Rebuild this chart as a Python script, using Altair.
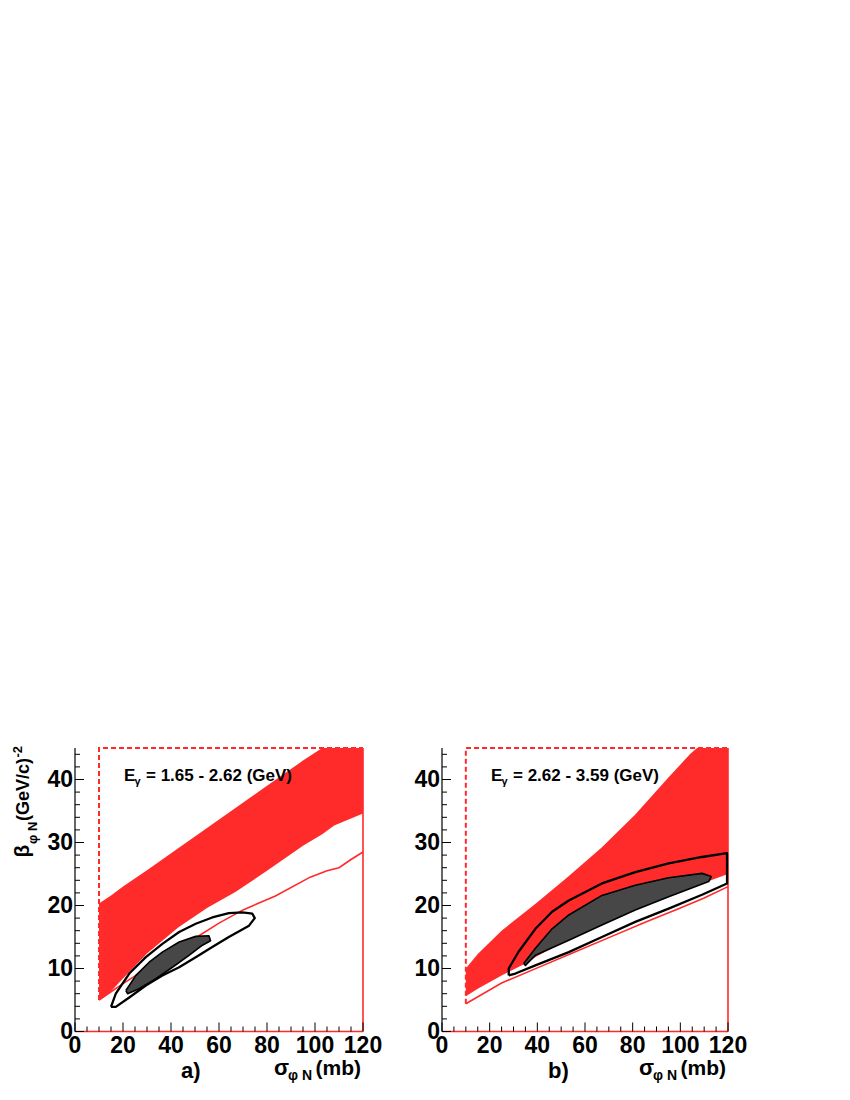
import altair as alt
import pandas as pd

RED = "#ff2a2a"
FONT = "Liberation Sans"

# ---------------- axis ticks ----------------
x_major = [0, 20, 40, 60, 80, 100, 120]
x_minor = [5, 10, 15, 25, 30, 35, 45, 50, 55, 65, 70, 75, 85, 90, 95, 105, 110, 115]
y_major = [0, 10, 20, 30, 40]
y_minor = [2, 4, 6, 8, 12, 14, 16, 18, 22, 24, 26, 28, 32, 34, 36, 38, 42, 44]

# ---------------- panel a ----------------
a_band_x = [10, 15, 20, 30, 43, 55, 67, 80, 95, 103, 108, 120]
a_band_hi = [20.3, 21.6, 23.0, 25.6, 29.1, 32.3, 35.5, 39.0, 43.0, 45.0, 45.0, 45.0]
a_band_lo = [5.0, 6.4, 8.4, 12.4, 16.5, 19.6, 22.2, 25.5, 29.5, 31.3, 32.7, 34.6]

a_line_x = [10, 20, 30, 40, 50, 60, 70, 83.5, 98, 105, 110, 115, 120]
a_line_y = [5.0, 7.6, 10.0, 12.4, 14.8, 17.2, 19.3, 21.5, 24.5, 25.5, 26.0, 27.3, 28.5]

a_outer_x = [15.0, 17.0, 22.6, 29.5, 36.4, 43.4, 50.3, 57.2, 64.1, 69.7, 73.9, 74.9,
             72.5, 64.1, 57.2, 50.3, 43.4, 36.4, 29.5, 22.6, 17.0, 15.0]
a_outer_y = [3.9, 6.0, 9.2, 11.8, 13.9, 15.8, 17.1, 18.1, 18.8, 18.9, 18.7, 18.0,
             16.8, 15.0, 13.4, 11.8, 10.2, 8.9, 7.3, 5.4, 3.9, 3.9]

a_inner_x = [21.2, 25.4, 30.9, 36.4, 43.4, 50.3, 55.8, 56.5, 53.1, 47.5, 40.6, 33.7, 26.7, 21.9, 21.2]
a_inner_y = [6.5, 8.9, 11.0, 12.6, 14.2, 15.1, 15.2, 14.4, 13.7, 12.1, 10.2, 8.4, 6.8, 6.0, 6.5]

a_dash_x = [10, 10, 120]
a_dash_y = [5.0, 45, 45]

# ---------------- panel b ----------------
b_band_x = [10, 15, 25, 35, 40, 53, 67, 81, 95, 104, 107, 110, 120]
b_band_hi = [10.0, 12.3, 16.0, 19.0, 20.5, 24.6, 29.2, 34.4, 40.3, 44.0, 45.0, 45.0, 45.0]
b_band_lo = [5.6, 6.8, 8.9, 10.8, 12.0, 14.6, 17.0, 19.3, 21.4, 22.6, 23.1, 23.6, 25.0]

b_line_x = [10, 25, 40, 55, 70, 85, 100, 110, 120]
b_line_y = [4.4, 7.7, 10.1, 12.5, 14.9, 17.3, 19.6, 21.2, 23.0]

b_outer_x = [28.0, 28.0, 32.2, 39.2, 46.2, 53.2, 67.1, 81.1, 95.1, 109.1, 119.6,
             119.6, 109.1, 95.1, 81.1, 67.1, 53.2, 39.2, 30.8, 28.0]
b_outer_y = [8.9, 10.0, 12.7, 16.3, 19.0, 20.8, 23.5, 25.3, 26.7, 27.7, 28.3,
             23.5, 21.7, 19.5, 17.4, 15.0, 12.6, 10.5, 9.2, 8.9]

b_inner_x = [34.3, 39.2, 46.2, 53.2, 67.1, 81.1, 95.1, 109.1, 113.0, 111.9, 95.1, 81.1, 67.1, 53.2, 39.2, 35.0, 34.3]
b_inner_y = [10.8, 13.2, 16.3, 18.5, 21.6, 23.2, 24.4, 25.1, 24.6, 23.8, 21.4, 19.3, 16.9, 14.5, 12.1, 10.5, 10.8]

b_dash_x = [10, 10, 120]
b_dash_y = [4.4, 45, 45]

frame_x = [120, 120]
frame_y = [0, 45]


def text(t, x, y, size, align="left", angle=0, weight="bold"):
    return alt.Chart(pd.DataFrame({"t": [t]})).mark_text(
        font=FONT, fontSize=size, fontWeight=weight, align=align,
        baseline="alphabetic", angle=angle, color="black"
    ).encode(text="t:N", x=alt.value(x), y=alt.value(y))


def panel(W, H, band_x, band_hi, band_lo, line_x, line_y, outer_x, outer_y,
          inner_x, inner_y, dash_x, dash_y, erange, letter, ytitle):
    xs = alt.Scale(domain=[0, 120], nice=False, zero=False)
    ys = alt.Scale(domain=[0, 45], nice=False, zero=False)

    def X(f):
        return alt.X(f, scale=xs, axis=None)

    def Y(f):
        return alt.Y(f, scale=ys, axis=None)

    band = alt.Chart(pd.DataFrame({"x": band_x, "hi": band_hi, "lo": band_lo})).mark_area(
        color=RED, opacity=1, interpolate="linear"
    ).encode(x=X("x:Q"), y=Y("hi:Q"), y2="lo:Q")

    rline = alt.Chart(pd.DataFrame({"x": line_x, "y": line_y})).mark_line(
        color=RED, strokeWidth=1.6
    ).encode(x=X("x:Q"), y=Y("y:Q"))

    dash = alt.Chart(pd.DataFrame({"x": dash_x, "y": dash_y, "o": list(range(len(dash_x)))})).mark_line(
        color=RED, strokeWidth=2, strokeDash=[5, 3]
    ).encode(x=X("x:Q"), y=Y("y:Q"), order="o:Q")

    frame = alt.Chart(pd.DataFrame({"x": frame_x, "y": frame_y})).mark_line(
        color=RED, strokeWidth=1.6
    ).encode(x=X("x:Q"), y=Y("y:Q"))

    outer = alt.Chart(pd.DataFrame({"x": outer_x, "y": outer_y, "o": list(range(len(outer_x)))})).mark_line(
        color="black", strokeWidth=2.3, strokeJoin="round"
    ).encode(x=X("x:Q"), y=Y("y:Q"), order="o:Q")

    inner = alt.Chart(pd.DataFrame({"x": inner_x, "y": inner_y, "o": list(range(len(inner_x)))})).mark_line(
        stroke="black", fill="#474747", strokeWidth=1.6, strokeJoin="round"
    ).encode(x=X("x:Q"), y=Y("y:Q"), order="o:Q")

    # axis lines
    yline = alt.Chart(pd.DataFrame({"v": [0]})).mark_rule(color="black", strokeWidth=1.2).encode(
        x=alt.value(0), y=alt.value(0), y2=alt.value(H))
    xline = alt.Chart(pd.DataFrame({"v": [0]})).mark_rule(color=RED, strokeWidth=1.6).encode(
        x=alt.value(0), x2=alt.value(W), y=alt.value(H))

    ymaj = alt.Chart(pd.DataFrame({"v": y_major})).mark_rule(color="black", strokeWidth=1).encode(
        y=Y("v:Q"), x=alt.value(0), x2=alt.value(9))
    ymin = alt.Chart(pd.DataFrame({"v": y_minor})).mark_rule(color="black", strokeWidth=1).encode(
        y=Y("v:Q"), x=alt.value(0), x2=alt.value(5))
    xmaj = alt.Chart(pd.DataFrame({"v": x_major})).mark_rule(color="black", strokeWidth=1).encode(
        x=X("v:Q"), y=alt.value(H), y2=alt.value(H - 9))
    xmin = alt.Chart(pd.DataFrame({"v": x_minor})).mark_rule(color="black", strokeWidth=1).encode(
        x=X("v:Q"), y=alt.value(H), y2=alt.value(H - 5))

    # tick labels
    xlab = alt.Chart(pd.DataFrame({"v": x_major})).mark_text(
        font=FONT, fontSize=23, fontWeight="bold", align="center", baseline="top", color="black"
    ).encode(x=X("v:Q"), y=alt.value(H + 3), text="v:Q")
    ylab = alt.Chart(pd.DataFrame({"v": y_major})).mark_text(
        font=FONT, fontSize=23, fontWeight="bold", align="right", baseline="middle", color="black"
    ).encode(y=Y("v:Q"), x=alt.value(-2), text="v:Q")

    layers = [band, rline, dash, frame, outer, inner, xline, yline,
              ymaj, ymin, xmaj, xmin, xlab, ylab]

    # energy range label
    layers += [
        text("E", 49, 32.5, 17),
        text("γ", 59.5, 36.5, 11),
        text("= " + erange + " (GeV)", 71, 32.5, 17),
    ]
    # x title
    layers += [
        text("(mb)", W - 2, 327, 21, align="right"),
        text("φ N", W - 51, 332, 14, align="right"),
        text("σ", W - 74, 327, 22, align="right"),
        text(letter, 106, 330, 22),
    ]
    if ytitle:
        layers += [
            text("β", -46, 109.5, 21, angle=270),
            text("φ N", -38, 96, 13, angle=270),
            text("(GeV/c)", -46, 73, 18, angle=270),
            text("-2", -53, 9.5, 13, angle=270),
        ]
    return alt.layer(*layers).properties(width=W, height=H)


left = panel(288, 283.5, a_band_x, a_band_hi, a_band_lo, a_line_x, a_line_y,
             a_outer_x, a_outer_y, a_inner_x, a_inner_y, a_dash_x, a_dash_y,
             "1.65 - 2.62", "a)", True)
right = panel(286, 283.5, b_band_x, b_band_hi, b_band_lo, b_line_x, b_line_y,
              b_outer_x, b_outer_y, b_inner_x, b_inner_y, b_dash_x, b_dash_y,
              "2.62 - 3.59", "b)", False)

chart = alt.hconcat(left, right, spacing=31).properties(
    padding={"left": 4, "top": 736, "right": 0, "bottom": 0},
    background="white"
).configure_view(stroke=None)

chart.save("out.html", embed_options={"renderer": "svg", "actions": False})
